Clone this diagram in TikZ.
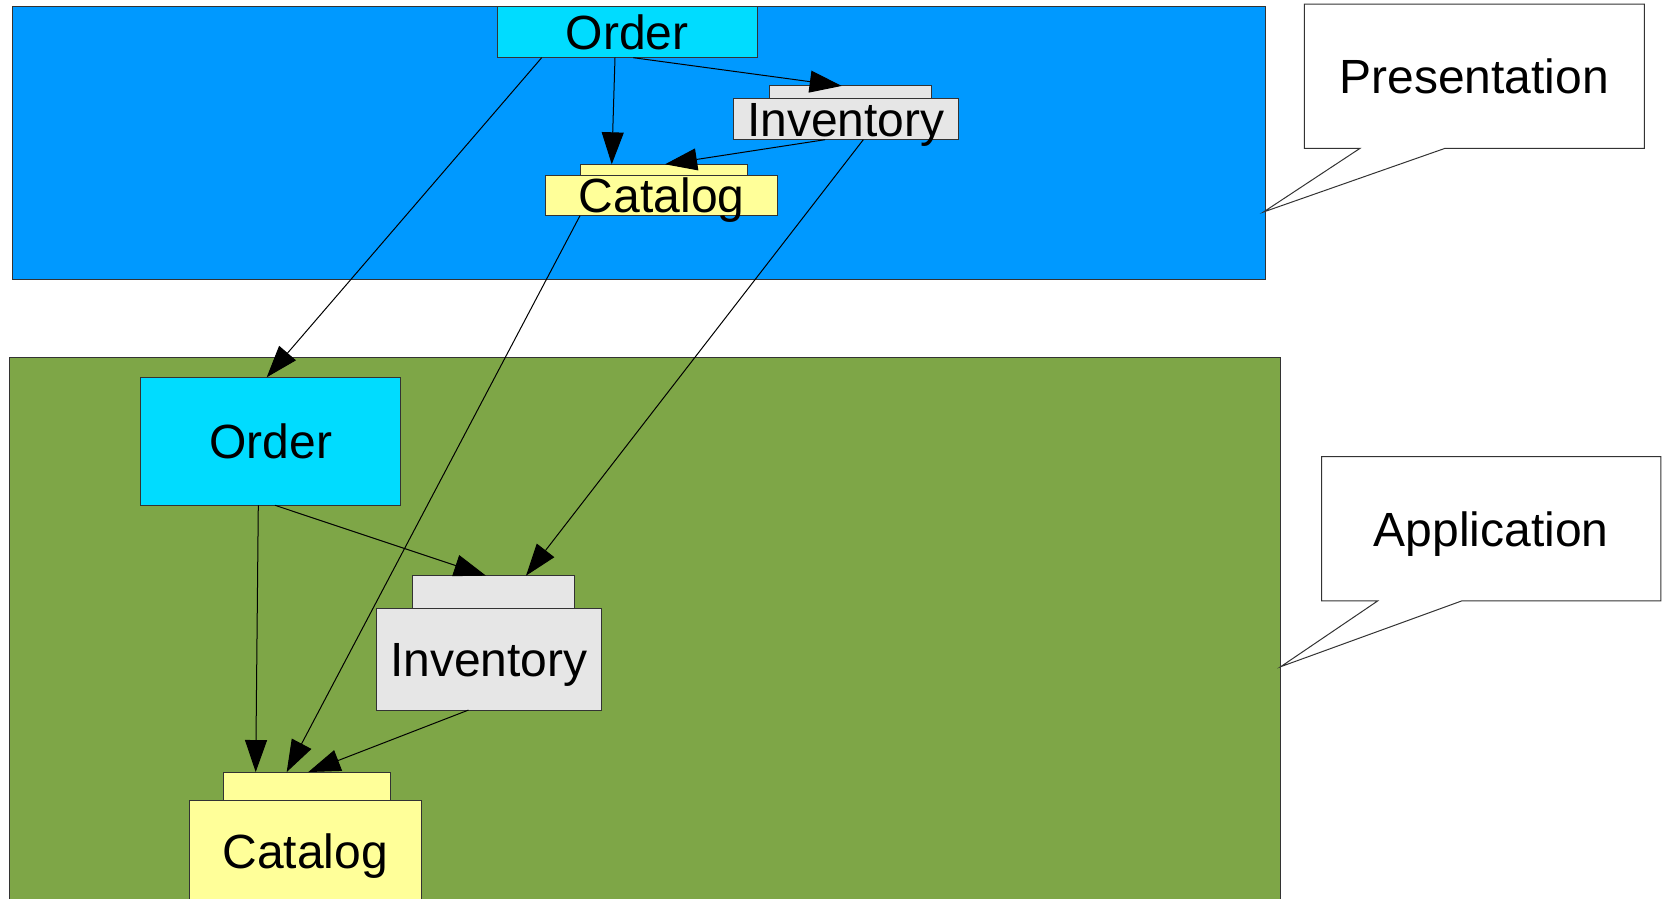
\documentclass[tikz,border=0pt]{standalone}
\usepackage{fontspec}
\setmainfont{Liberation Sans}
\usetikzlibrary{arrows.meta,calc}
\definecolor{presblue}{HTML}{0099FF}
\definecolor{appgreen}{HTML}{7EA647}
\definecolor{ordercyan}{HTML}{00DCFF}
\definecolor{invgray}{HTML}{E6E6E6}
\definecolor{catyellow}{HTML}{FFFF99}
\begin{document}
\begin{tikzpicture}[x=0.5pt, y=-0.5pt,
  layer/.style={draw=black!80, line width=0.5pt, inner sep=0pt, outer sep=0pt},
  comp/.style={draw=black!80, line width=0.5pt, inner sep=0pt, outer sep=0pt,
    font=\fontsize{24}{28}\selectfont, text height=17.2pt, text depth=0pt},
  tabbox/.style={draw=black!80, line width=0.5pt, inner sep=0pt, outer sep=0pt},
  dep/.style={line width=0.5pt, -{Triangle[length=16pt,width=11pt]}},
  note/.style={inner sep=0pt, outer sep=0pt, minimum width=170pt, minimum height=72.15pt,
    font=\fontsize{24}{28}\selectfont, text height=17.2pt, text depth=0pt},
  noteline/.style={draw=black!80, line width=0.5pt}]
\useasboundingbox (0,0) rectangle (1662,899);
% layers
\node[layer, fill=presblue, minimum width=626.15pt, minimum height=136.65pt] (presL) at (638.9,143.3) {};
\node[layer, fill=appgreen, minimum width=635.25pt, minimum height=276.5pt] (appL) at (644.75,633.5) {};
% presentation components
\node[comp, fill=ordercyan, minimum width=130pt, minimum height=25.5pt] (ordP) at (627.3,32.2) {Order};
\node[tabbox, fill=invgray, minimum width=81pt, minimum height=6.35pt] (invTabP) at (850.3,92.3) {};
\node[comp, fill=invgray, minimum width=112.5pt, minimum height=20.5pt] (invP) at (845.8,119.2) {Inventory};
\node[tabbox, fill=catyellow, minimum width=83.65pt, minimum height=5.5pt] (catTabP) at (663.7,169.8) {};
\node[comp, fill=catyellow, minimum width=116pt, minimum height=20.2pt] (catP) at (661.7,195.5) {Catalog};
% application components
\node[comp, fill=ordercyan, minimum width=130pt, minimum height=64pt] (ordA) at (270.7,441.3) {Order};
\node[tabbox, fill=invgray, minimum width=81pt, minimum height=16.3pt] (invTabA) at (493.3,592) {};
\node[comp, fill=invgray, minimum width=112.5pt, minimum height=50.85pt] (invA) at (488.8,659.2) {Inventory};
\node[tabbox, fill=catyellow, minimum width=83.5pt, minimum height=14.15pt] (catTabA) at (306.8,786.2) {};
\node[comp, fill=catyellow, minimum width=116.15pt, minimum height=51.2pt] (catA) at (305.2,851.5) {Catalog};
% callouts
\node[note] (noteP) at (1474.3,76.2) {Presentation};
\coordinate (tipP) at (1263.5,212);
\draw[noteline] (noteP.north west) -- (noteP.north east) -- (noteP.south east)
  -- ($(noteP.south west)+(140.7,0)$) -- (tipP) -- ($(noteP.south west)+(55.7,0)$)
  -- (noteP.south west) -- cycle;
\node[note, minimum width=169.65pt] (noteA) at (1491.3,528.8) {Application};
\coordinate (tipA) at (1280.7,666.7);
\draw[noteline] (noteA.north west) -- (noteA.north east) -- (noteA.south east)
  -- ($(noteA.south west)+(140,0)$) -- (tipA) -- ($(noteA.south west)+(56,0)$)
  -- (noteA.south west) -- cycle;
% dependencies inside presentation
\draw[dep] ($(ordP.south west)+(117.7,0)$) -- ($(catTabP.north west)+(31.7,0)$);
\draw[dep] ($(ordP.south west)+(136,0)$) -- ($(invTabP.north west)+(72.4,0)$);
\draw[dep] ($(invP.south west)+(91.7,0)$) -- ($(catTabP.north west)+(85,0)$);
% presentation -> application
\draw[dep] ($(ordP.south west)+(44.4,0)$) -- ($(ordA.north west)+(126,0)$);
\draw[dep] ($(invP.south west)+(130,0)$) -- ($(invTabA.north west)+(113.7,0)$);
\draw[dep] ($(catP.south west)+(34.3,0)$) -- ($(catTabA.north west)+(63.4,0)$);
% dependencies inside application
\draw[dep] ($(ordA.south west)+(117.6,0)$) -- ($(catTabA.north west)+(32.4,0)$);
\draw[dep] ($(ordA.south west)+(134.3,0)$) -- ($(invTabA.north west)+(73.7,0)$);
\draw[dep] ($(invA.south west)+(92.2,0)$) -- ($(catTabA.north west)+(85,0)$);
\end{tikzpicture}
\end{document}
